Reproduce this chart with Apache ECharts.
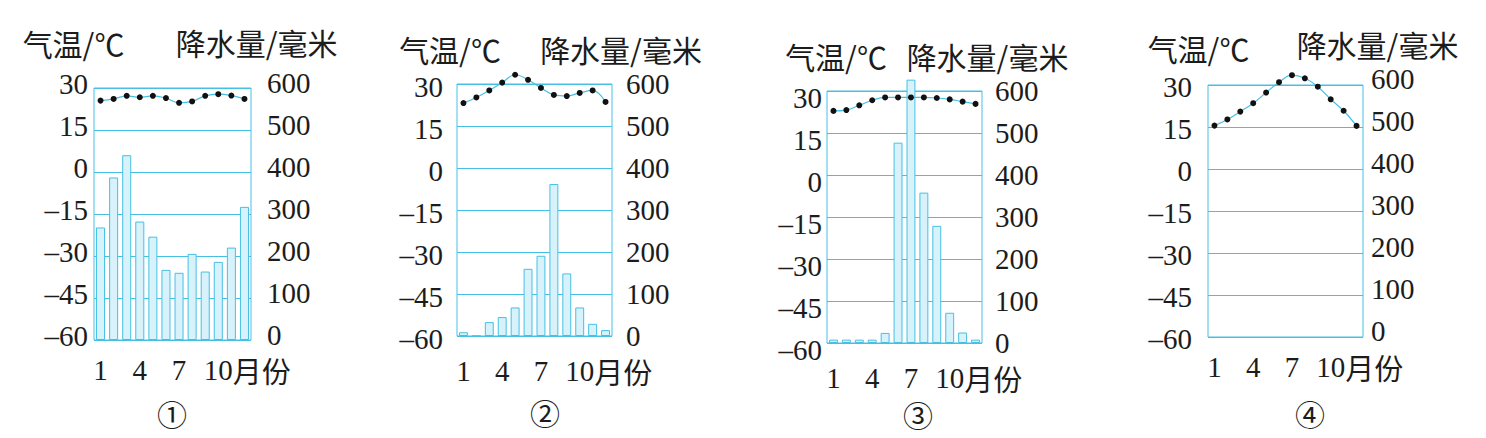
<!DOCTYPE html>
<html><head><meta charset="utf-8">
<script src="https://cdn.jsdelivr.net/npm/echarts@6/dist/echarts.min.js"></script>
<style>html,body{margin:0;padding:0;background:#fff}#c{width:1486px;height:438px}</style>
</head><body><div id="c"></div>
<script>
// ---------- data ----------
const months = ['1','2','3','4','5','6','7','8','9','10','11','12'];
const xTickLabels = ['1','4','7','10'];
const xAxisUnit = '月份';
const tempAxisName = '气温/℃';
const precipAxisName = '降水量/毫米';
const panelNames = ['①','②','③','④'];

const temp1   = [25.5, 26.1, 27.2, 26.7, 27.2, 26.4, 24.7, 25.2, 27.2, 27.8, 27.3, 26.1];
const precip1 = [268, 387, 440, 282, 246, 167, 160, 205, 163, 186, 220, 317];

const temp2   = [23.2, 25.2, 27.7, 30.5, 33.3, 31.5, 28.6, 26.1, 25.7, 26.8, 27.7, 23.6];
const precip2 = [9, 0, 33, 45, 68, 160, 191, 362, 149, 68, 29, 14];

const temp3   = [22.9, 23.2, 24.9, 26.7, 27.7, 27.7, 27.7, 27.7, 27.5, 27.0, 26.2, 25.4];
const precip3 = [8, 8, 8, 8, 24, 477, 627, 358, 279, 72, 25, 8];

const temp4   = [15.5, 17.7, 20.5, 23.5, 27.3, 31.0, 33.5, 32.4, 29.4, 24.9, 20.8, 15.4];
const precip4 = []; // no precipitation bars drawn in panel ④

const temps = [temp1, temp2, temp3, temp4];
const precips = [precip1, precip2, precip3, precip4];

// ---------- layout / style ----------
const CYAN = '#45c0e4';
const BAR_FILL = '#d8f2fb';
const TXT = '#1c1c1c';
const NUM_FONT = '"Liberation Serif", "DejaVu Serif", serif';
const CJK_FONT = '"Noto Sans CJK SC", sans-serif';

const layouts = [
  {left: 94,   top: 88, width: 157, lm: 6,  rm: 16, dyL: -4, dyR: -5, xm: 17, lShift: -20.5, rShift: 5.7,  lGap: 45, rGap: 46, num: [172, 413]},
  {left: 457,  top: 84, width: 155, lm: 14, rm: 14, dyL: 3,  dyR: 0,  xm: 22, lShift: -7,    rShift: 9,    lGap: 35, rGap: 35, num: [545, 412]},
  {left: 827,  top: 91, width: 155, lm: 5,  rm: 13, dyL: 7,  dyR: 0,  xm: 22, lShift: 9,     rShift: 5.5,  lGap: 35, rGap: 35, num: [918, 414]},
  {left: 1208, top: 85, width: 155, lm: 16, rm: 8,  dyL: 2,  dyR: -6, xm: 17, lShift: -9.5,  rShift: 14.5, lGap: 37, rGap: 41, num: [1310, 413]}
];
const GRID_H = 252;

// vertical nudge of y labels: a short line box anchored at the tick
function vShift(dy) {
  if (dy === 0) return {verticalAlign: 'middle'};
  return dy > 0 ? {verticalAlign: 'top', lineHeight: 2 * dy} : {verticalAlign: 'bottom', lineHeight: -2 * dy};
}
function namePad(shift) { return shift >= 0 ? [0, 0, 0, 2 * shift] : [0, -2 * shift, 0, 0]; }
function tempFmt(v) { return v < 0 ? '\u2013' + Math.abs(v) : String(v); }

const grids = [], xAxes = [], yAxes = [], series = [], graphics = [];

layouts.forEach((L, i) => {
  grids.push({left: L.left, top: L.top, width: L.width, height: GRID_H, show: true,
    borderColor: CYAN, borderWidth: 1, backgroundColor: 'transparent', containLabel: false, outerBoundsMode: 'none'});

  xAxes.push({
    type: 'category', gridIndex: i, data: months, boundaryGap: true,
    axisLine: {show: false}, axisTick: {show: false}, splitLine: {show: false},
    axisLabel: {
      interval: 0, margin: L.xm, color: TXT, lineHeight: 26,
      formatter: (v) => {
        if (!xTickLabels.includes(v)) return '';
        if (v === xTickLabels[xTickLabels.length - 1]) return '{p|}{n|' + v + '}{u|' + xAxisUnit + '}';
        return '{n|' + v + '}';
      },
      rich: {
        p: {width: 58, lineHeight: 26},
        n: {fontFamily: NUM_FONT, fontSize: 29, color: TXT, lineHeight: 26},
        u: {fontFamily: CJK_FONT, fontSize: 29, color: TXT, lineHeight: 26}
      }
    }
  });

  yAxes.push({
    type: 'value', gridIndex: i, position: 'left', min: -60, max: 30, interval: 15,
    axisLine: {show: false}, axisTick: {show: false},
    splitLine: {show: true, lineStyle: {color: CYAN, width: 1}},
    axisLabel: Object.assign({formatter: tempFmt, margin: L.lm, color: TXT, fontFamily: NUM_FONT, fontSize: 29}, vShift(L.dyL)),
    name: tempAxisName, nameLocation: 'end', nameGap: L.lGap,
    nameTextStyle: {fontFamily: CJK_FONT, fontSize: 30, color: TXT, align: 'center', verticalAlign: 'middle', padding: namePad(L.lShift)}
  });
  yAxes.push({
    type: 'value', gridIndex: i, position: 'right', min: 0, max: 600, interval: 100,
    axisLine: {show: false}, axisTick: {show: false}, splitLine: {show: false},
    axisLabel: Object.assign({margin: L.rm, color: TXT, fontFamily: NUM_FONT, fontSize: 29}, vShift(L.dyR)),
    name: precipAxisName, nameLocation: 'end', nameGap: L.rGap,
    nameTextStyle: {fontFamily: CJK_FONT, fontSize: 30, color: TXT, align: 'center', verticalAlign: 'middle', padding: namePad(L.rShift)}
  });

  if (precips[i].length) {
    series.push({
      type: 'bar', xAxisIndex: i, yAxisIndex: 2 * i + 1, data: precips[i], barWidth: '69%',
      itemStyle: {color: BAR_FILL, borderColor: CYAN, borderWidth: 1}, clip: false, silent: true, z: 2
    });
  }
  series.push({
    type: 'line', xAxisIndex: i, yAxisIndex: 2 * i, data: temps[i], smooth: 0.4,
    symbol: 'circle', symbolSize: 6, showSymbol: true,
    itemStyle: {color: '#111'}, lineStyle: {color: CYAN, width: 1.2},
    clip: false, silent: true, z: 3
  });

  graphics.push({type: 'text', x: L.num[0], y: L.num[1],
    style: {text: panelNames[i], font: '30px ' + CJK_FONT, fill: TXT, align: 'center', verticalAlign: 'middle'}});
});

const chart = echarts.init(document.getElementById('c'), null, {renderer: 'svg'});
chart.setOption({
  animation: false,
  backgroundColor: '#fff',
  grid: grids, xAxis: xAxes, yAxis: yAxes, series: series, graphic: graphics
});
</script></body></html>
